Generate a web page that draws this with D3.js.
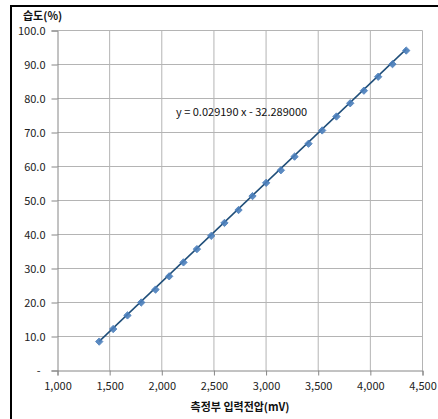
<!DOCTYPE html>
<html><head><meta charset="utf-8">
<script src="https://cdn.jsdelivr.net/npm/d3@7"></script>
<style>
body{margin:0;background:#fff;}
svg{display:block;}
text{font-family:"Noto Sans CJK KR","Noto Sans",sans-serif;}
</style></head>
<body>
<script>
const voltages = [1400,1534,1671,1803,1940,2071,2208,2337,2474,2601,2736,2870,3001,3142,3273,3407,3538,3675,3807,3938,4075,4212,4344];
const humidity = [8.5,12.2,16.2,20.0,23.8,27.7,31.8,35.7,39.6,43.4,47.2,51.3,55.2,58.9,62.9,66.7,70.6,74.7,78.6,82.3,86.4,90.1,94.1];
const xTicks = [1000,1500,2000,2500,3000,3500,4000,4500];
const yTicks = [0,10,20,30,40,50,60,70,80,90,100];
const slope = 0.029190, intercept = -32.289000;
const yTitle = "습도(%)";
const xTitle = "측정부 입력전압(mV)";
const eqText = "y = 0.029190 x - 32.289000";

const W=438,H=419;
const svg=d3.select("body").append("svg").attr("width",W).attr("height",H);
// frame
svg.append("line").attr("x1",11).attr("x2",438).attr("y1",6).attr("y2",6).attr("stroke","#000").attr("stroke-width",2);
svg.append("line").attr("x1",11).attr("x2",11).attr("y1",5).attr("y2",419).attr("stroke","#000").attr("stroke-width",2);

const x=d3.scaleLinear().domain([1000,4500]).range([57.5,422.5]);
const y=d3.scaleLinear().domain([0,100]).range([370.5,30.5]);

// grid
svg.append("g").selectAll("line").data(xTicks.slice(1)).join("line")
  .attr("x1",d=>x(d)).attr("x2",d=>x(d)).attr("y1",y(0)).attr("y2",y(100))
  .attr("stroke","#b4b4b4").attr("stroke-width",1);
svg.append("g").selectAll("line").data(yTicks.slice(1)).join("line")
  .attr("x1",x(1000)).attr("x2",x(4500)).attr("y1",d=>y(d)).attr("y2",d=>y(d))
  .attr("stroke","#b4b4b4").attr("stroke-width",1);

// axes
const fmtX=d3.format(",");
const fmtY=d=>d===0?"-":d3.format(".1f")(d);
const xAxis=svg.append("g").attr("transform",`translate(0,${y(0)})`)
  .call(d3.axisBottom(x).tickValues(xTicks).tickFormat(fmtX).tickSize(5).tickPadding(7));
const yAxis=svg.append("g").attr("transform",`translate(${x(1000)},0)`)
  .call(d3.axisLeft(y).tickValues(yTicks).tickFormat(fmtY).tickSize(6).tickPadding(6));
[xAxis,yAxis].forEach(g=>{
  g.select(".domain").attr("stroke","#868686");
  g.selectAll(".tick line").attr("stroke","#868686");
  g.selectAll(".tick text").attr("fill","#222").style("font-size","11px")
   .style("font-family","'Noto Sans CJK KR','Noto Sans',sans-serif");
});
yAxis.selectAll(".tick text").filter(d=>d===0).attr("dx",-5);

// trendline
const x0=d3.min(voltages), x1=d3.max(voltages);
svg.append("line").attr("x1",x(x0)).attr("y1",y(slope*x0+intercept))
  .attr("x2",x(x1)).attr("y2",y(slope*x1+intercept))
  .attr("stroke","#1f4e79").attr("stroke-width",1.5);

// markers
svg.append("g").selectAll("path").data(voltages.map((v,i)=>[v,humidity[i]])).join("path")
  .attr("d",d3.symbol(d3.symbolDiamond2,34))
  .attr("transform",d=>`translate(${x(d[0])},${y(d[1])})`)
  .attr("fill","#4a7ebb").attr("stroke","#4a7ebb").attr("stroke-width",1).attr("opacity",0.9);

// texts
svg.append("text").attr("x",23).attr("y",20).text(yTitle)
  .style("font-size","11px").style("font-weight","bold").attr("fill","#111");
svg.append("text").attr("x",(x(1000)+x(4500))/2).attr("y",411).attr("text-anchor","middle").text(xTitle)
  .style("font-size","11px").style("font-weight","bold").attr("fill","#111");
svg.append("text").attr("x",176).attr("y",116).text(eqText)
  .style("font-size","11px").attr("fill","#111");
</script>
</body></html>
